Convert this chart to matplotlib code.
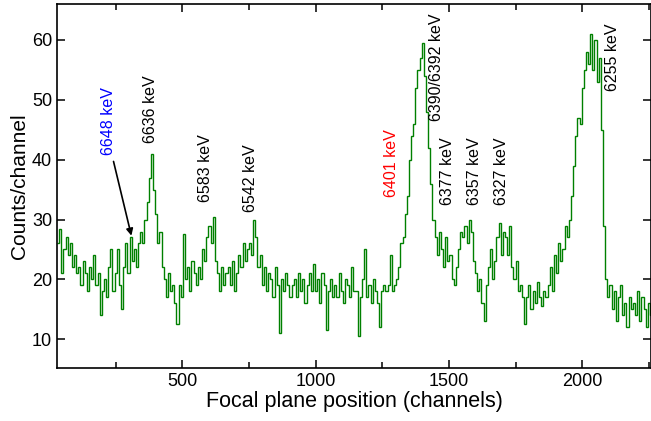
import numpy as np
import matplotlib
matplotlib.use("Agg")
from matplotlib import pyplot as plt

plt.rcParams['font.family'] = ['Liberation Sans', 'DejaVu Sans']

# focal plane spectrum, 8-channel bins starting at channel 30
bin_start = 30
bin_width = 8
counts = [
    26, 28.5, 21, 25, 27, 24, 26, 22, 24, 21,          # 30-110
    22, 19, 23, 21, 18, 22, 20, 24, 19, 21,            # 110-190
    14, 18, 20, 17, 22, 25, 18, 21, 25, 19,            # 190-270
    15, 22, 26, 21, 27, 23, 25, 22, 26, 28,            # 270-350
    26, 30, 33, 37, 41, 35, 31, 26, 28, 22,            # 350-430
    20, 17, 21, 18, 19, 16, 12.5, 19, 17, 27.5,        # 430-510
    20, 22, 18, 23, 21, 19, 22, 20, 25, 23,            # 510-590
    27, 29, 26, 30.5, 23, 21, 18, 22, 19, 21,          # 590-670
    22, 19, 23, 18, 21, 24, 22, 26, 23, 25,            # 670-750
    26, 24, 30, 27, 22, 24, 19, 22, 18, 21,            # 750-830
    20, 17, 22, 19, 11, 20, 18, 21, 19, 17,            # 830-910
    19, 20, 17, 21, 18, 20, 16, 19, 21, 18,            # 910-990
    22.5, 18, 20, 16, 21, 19, 11.5, 18, 20, 17,        # 990-1070
    19, 17, 21, 18, 16, 20, 19, 17, 22, 18,            # 1070-1150
    18, 10.5, 17, 20, 25, 17, 19, 16, 20, 18,          # 1150-1230
    16, 12, 18, 19, 18, 19, 24, 18, 19, 20,            # 1230-1310
    22, 26, 27, 31, 34, 40, 44, 46, 52, 55,            # 1310-1390
    57, 59.5, 54, 48, 42, 36, 30, 27, 24, 28,          # 1390-1470
    25, 22, 27, 23, 24, 20, 19, 22, 25, 28,            # 1470-1550
    27, 29, 26, 30, 28, 23, 21, 18, 20, 16,            # 1550-1630
    13, 19, 22, 25, 20, 23, 27, 29.5, 24, 28,          # 1630-1710
    27, 24, 29, 22, 20, 23, 18, 19, 17, 12.5,          # 1710-1790
    17, 19, 15, 18, 16, 19.5, 17, 15.5, 18, 17,        # 1790-1870
    19, 22, 18, 24, 21, 26, 23, 25, 29, 27,            # 1870-1950
    30, 34, 39, 44, 47, 46, 52, 55, 58, 56,            # 1950-2030
    61, 55, 60, 53, 57, 45, 29, 20, 17, 19,            # 2030-2110
    15, 18, 13, 17, 19, 14, 16, 12, 17, 15,            # 2110-2190
    16, 14, 18, 13, 17, 15, 12, 16, 14, 15,            # 2190-2270
]

# transition labels: text, channel, count level at label base, colour
line_labels = ['6648 keV', '6636 keV', '6583 keV', '6542 keV', '6401 keV',
               '6390/6392 keV', '6377 keV', '6357 keV', '6327 keV', '6255 keV']
label_chan = [224, 380, 586, 755, 1285, 1454, 1496, 1597, 1697, 2113]
label_base = [40.8, 42.8, 33, 31.3, 33.8, 46.4, 32.5, 32.5, 32.5, 51.4]
label_color = ['blue', 'black', 'black', 'black', 'red',
               'black', 'black', 'black', 'black', 'black']

edges = bin_start + bin_width * np.arange(len(counts) + 1)

fig = plt.figure(figsize=(6.51, 4.21), dpi=100)
ax = fig.add_axes([57 / 651, 1 - 368 / 421, 594 / 651, 364 / 421])
ax.stairs(counts, edges, color='#008000', lw=1.0, baseline=None)

for txt, ch, yb, c in zip(line_labels, label_chan, label_base, label_color):
    ax.text(ch, yb, txt, rotation=90, ha='center', va='bottom',
            fontsize=11.5, color=c)

ax.annotate('', xy=(309, 27.3), xytext=(242, 39.7),
            arrowprops=dict(arrowstyle='-|>', color='black', lw=1.2,
                            mutation_scale=10, shrinkA=0, shrinkB=0))

ax.set_xlim(30, 2258)
ax.set_ylim(5.2, 66)
ax.set_xticks([500, 1000, 1500, 2000])
ax.set_xticks([250, 750, 1250, 1750, 2250], minor=True)
ax.set_yticks([10, 20, 30, 40, 50, 60])
ax.tick_params(which='both', direction='in', top=True, right=True,
               labelsize=13, width=1.1)
ax.tick_params(which='major', length=6)
ax.tick_params(which='minor', length=4)
for s in ax.spines.values():
    s.set_linewidth(1.2)

ax.set_xlabel('Focal plane position (channels)', fontsize=15.5, labelpad=1)
ax.set_ylabel('Counts/channel', fontsize=15, labelpad=2)

fig.savefig('out.png', dpi=100)
